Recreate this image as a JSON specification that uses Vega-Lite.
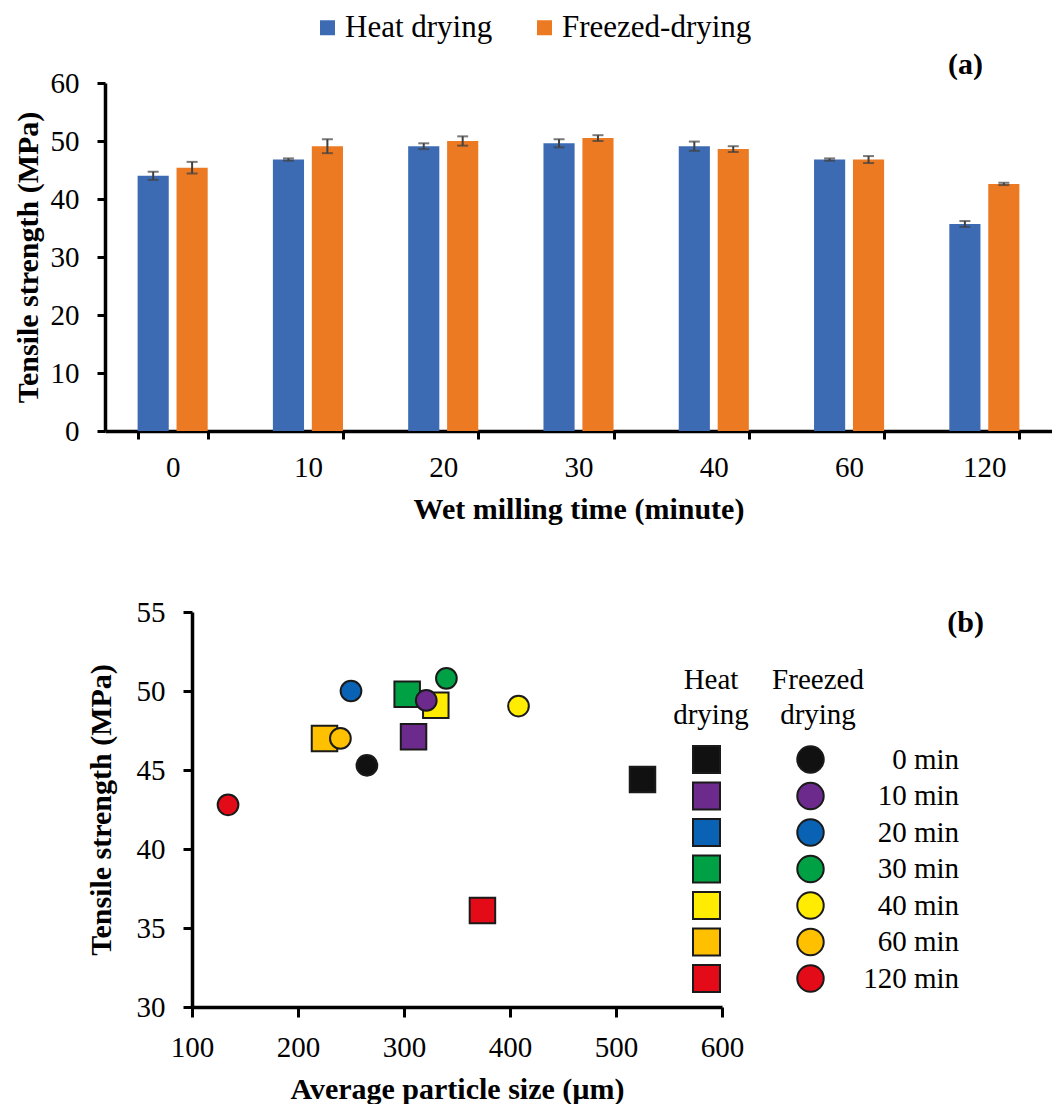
{
  "$schema": "https://vega.github.io/schema/vega-lite/v6.json",
  "background": "white",
  "padding": {"left": 13, "top": 12, "right": 0, "bottom": 0},
  "spacing": 74,
  "config": {
    "view": {"stroke": null},
    "font": "Liberation Serif",
    "axis": {"grid": false, "labelFlush": false, "domainColor": "black", "tickColor": "black", "labelColor": "black", "titleColor": "black", "labelFont": "Liberation Serif", "titleFont": "Liberation Serif"},
    "legend": {"labelFont": "Liberation Serif", "titleFont": "Liberation Serif", "labelColor": "black", "titleColor": "black", "padding": 0, "labelLimit": 400},
    "title": {"font": "Liberation Serif", "color": "black"}
  },
  "datasets": {
    "bars": [
      {"time": "0", "method": "Heat drying", "value": 44.0, "lo": 43.3, "hi": 44.7},
      {"time": "0", "method": "Freezed-drying", "value": 45.4, "lo": 44.4, "hi": 46.4},
      {"time": "10", "method": "Heat drying", "value": 46.8, "lo": 46.6, "hi": 47.0},
      {"time": "10", "method": "Freezed-drying", "value": 49.1, "lo": 47.9, "hi": 50.3},
      {"time": "20", "method": "Heat drying", "value": 49.1, "lo": 48.6, "hi": 49.6},
      {"time": "20", "method": "Freezed-drying", "value": 50.0, "lo": 49.2, "hi": 50.8},
      {"time": "30", "method": "Heat drying", "value": 49.6, "lo": 48.9, "hi": 50.3},
      {"time": "30", "method": "Freezed-drying", "value": 50.5, "lo": 50.0, "hi": 51.0},
      {"time": "40", "method": "Heat drying", "value": 49.1, "lo": 48.3, "hi": 49.9},
      {"time": "40", "method": "Freezed-drying", "value": 48.6, "lo": 48.1, "hi": 49.1},
      {"time": "60", "method": "Heat drying", "value": 46.8, "lo": 46.6, "hi": 47.0},
      {"time": "60", "method": "Freezed-drying", "value": 46.8, "lo": 46.2, "hi": 47.4},
      {"time": "120", "method": "Heat drying", "value": 35.7, "lo": 35.2, "hi": 36.2},
      {"time": "120", "method": "Freezed-drying", "value": 42.6, "lo": 42.4, "hi": 42.8}
    ],
    "points": [
      {"time": "0 min", "method": "Heat drying", "size": 525, "strength": 44.4},
      {"time": "10 min", "method": "Heat drying", "size": 309, "strength": 47.1},
      {"time": "30 min", "method": "Heat drying", "size": 303, "strength": 49.8},
      {"time": "40 min", "method": "Heat drying", "size": 330, "strength": 49.1},
      {"time": "60 min", "method": "Heat drying", "size": 225, "strength": 47.0},
      {"time": "120 min", "method": "Heat drying", "size": 374, "strength": 36.1},
      {"time": "0 min", "method": "Freezed drying", "size": 265, "strength": 45.3},
      {"time": "10 min", "method": "Freezed drying", "size": 321, "strength": 49.4},
      {"time": "20 min", "method": "Freezed drying", "size": 250, "strength": 50.0},
      {"time": "30 min", "method": "Freezed drying", "size": 340, "strength": 50.8},
      {"time": "40 min", "method": "Freezed drying", "size": 408, "strength": 49.05},
      {"time": "60 min", "method": "Freezed drying", "size": 240, "strength": 47.0},
      {"time": "120 min", "method": "Freezed drying", "size": 134, "strength": 42.8}
    ]
  },
  "vconcat": [
    {
      "width": 947,
      "height": 348,
      "title": {"text": "(a)", "anchor": "end", "dx": -69, "dy": 15, "fontSize": 30, "fontWeight": "bold"},
      "data": {"name": "bars"},
      "encoding": {
        "x": {
          "field": "time", "type": "nominal",
          "sort": ["0", "10", "20", "30", "40", "60", "120"],
          "scale": {"paddingInner": 0.482, "paddingOuter": 0.241},
          "axis": {"title": "Wet milling time (minute)", "labelAngle": 0, "tickBand": "extent", "tickSize": 8, "tickWidth": 3, "domainWidth": 3.5, "labelFontSize": 29, "labelPadding": 14, "titleFontSize": 30, "titleFontWeight": "bold", "titlePadding": 12}
        },
        "xOffset": {"field": "method", "type": "nominal", "sort": ["Heat drying", "Freezed-drying"], "scale": {"paddingInner": 0.2, "paddingOuter": 0}}
      },
      "layer": [
        {
          "mark": {"type": "bar"},
          "encoding": {
            "y": {"field": "value", "type": "quantitative", "title": "Tensile strength (MPa)", "scale": {"domain": [0, 60], "nice": false},
              "axis": {"values": [0, 10, 20, 30, 40, 50, 60], "tickSize": 8, "tickWidth": 3, "domainWidth": 3.5, "labelFontSize": 29, "labelPadding": 18, "titleFontSize": 30, "titleFontWeight": "bold", "titlePadding": 7}},
            "color": {"field": "method", "type": "nominal", "scale": {"domain": ["Heat drying", "Freezed-drying"], "range": ["#3C6BB3", "#EC7A23"]},
              "legend": {"orient": "none", "direction": "horizontal", "legendX": 207, "legendY": -71, "title": null, "symbolType": "square", "symbolSize": 225, "symbolStrokeWidth": 0, "labelFontSize": 31, "labelOffset": 2, "columnPadding": 36}}
          }
        },
        {
          "mark": {"type": "rule", "color": "#404040", "strokeWidth": 2},
          "encoding": {
            "y": {"field": "lo", "type": "quantitative", "title": "Tensile strength (MPa)"},
            "y2": {"field": "hi"}
          }
        },
        {
          "mark": {"type": "tick", "color": "#404040", "size": 11, "thickness": 2},
          "encoding": {"y": {"field": "lo", "type": "quantitative", "title": "Tensile strength (MPa)"}}
        },
        {
          "mark": {"type": "tick", "color": "#404040", "size": 11, "thickness": 2},
          "encoding": {"y": {"field": "hi", "type": "quantitative", "title": "Tensile strength (MPa)"}}
        }
      ]
    },
    {
      "width": 617,
      "height": 395,
      "title": {"text": "(b)", "anchor": "end", "dx": 25, "dy": 44, "fontSize": 30, "fontWeight": "bold"},
      "data": {"name": "points"},
      "encoding": {
        "x": {"field": "size", "type": "quantitative", "scale": {"domain": [100, 600], "range": [87, 617], "nice": false, "zero": false},
          "axis": {"title": "Average particle size (µm)", "values": [100, 200, 300, 400, 500, 600], "tickSize": 10, "tickWidth": 3, "domainWidth": 3.5, "labelFontSize": 29, "labelPadding": 16, "titleFontSize": 30, "titleFontWeight": "bold", "titlePadding": 12}},
        "y": {"field": "strength", "type": "quantitative", "scale": {"domain": [30, 55], "nice": false, "zero": false},
          "axis": {"title": "Tensile strength (MPa)", "values": [30, 35, 40, 45, 50, 55], "offset": -87, "tickSize": 9, "tickWidth": 3, "domainWidth": 3.5, "labelFontSize": 29, "labelPadding": 18, "titleFontSize": 30, "titleFontWeight": "bold", "titlePadding": 20}}
      },
      "layer": [
        {
          "transform": [{"filter": "datum.method == 'Heat drying'"}],
          "mark": {"type": "point", "shape": "square", "filled": true, "size": 650, "stroke": "#1a1a1a", "strokeWidth": 2, "opacity": 1},
          "encoding": {
            "color": {"field": "time", "type": "nominal",
              "scale": {"domain": ["0 min", "10 min", "20 min", "30 min", "40 min", "60 min", "120 min"], "range": ["#111111", "#6B2A8C", "#0A62B4", "#00A145", "#FFEC00", "#FFC000", "#E30B17"]},
              "legend": {"orient": "none", "legendX": 568, "legendY": 54, "title": ["Heat", "drying"], "symbolType": "square", "symbolSize": 729, "symbolOffset": -5, "symbolStrokeColor": "#1a1a1a", "symbolStrokeWidth": 2, "symbolOpacity": 1, "labelExpr": "''", "labelFontSize": 29, "rowPadding": 1.5, "titleFontSize": 29, "titleFontWeight": "normal", "titleLineHeight": 35, "titleAlign": "center", "titleAnchor": "middle", "titlePadding": 15}}
          }
        },
        {
          "transform": [{"filter": "datum.method == 'Freezed drying'"}],
          "mark": {"type": "point", "shape": "circle", "filled": true, "size": 430, "stroke": "#1a1a1a", "strokeWidth": 2, "opacity": 1},
          "encoding": {
            "color": {"field": "time", "type": "nominal",
              "scale": {"domain": ["0 min", "10 min", "20 min", "30 min", "40 min", "60 min", "120 min"], "range": ["#111111", "#6B2A8C", "#0A62B4", "#00A145", "#FFEC00", "#FFC000", "#E30B17"]},
              "legend": {"orient": "none", "legendX": 667, "legendY": 54, "title": ["Freezed", "drying"], "symbolType": "circle", "symbolSize": 700, "symbolOffset": -22, "symbolStrokeColor": "#1a1a1a", "symbolStrokeWidth": 2, "symbolOpacity": 1, "labelFontSize": 29, "labelAlign": "right", "labelOffset": 134, "rowPadding": 1.5, "titleFontSize": 29, "titleFontWeight": "normal", "titleLineHeight": 35, "titleAlign": "center", "titleAnchor": "start", "titlePadding": 15}}
          }
        }
      ],
      "resolve": {"scale": {"color": "independent"}}
    }
  ]
}
